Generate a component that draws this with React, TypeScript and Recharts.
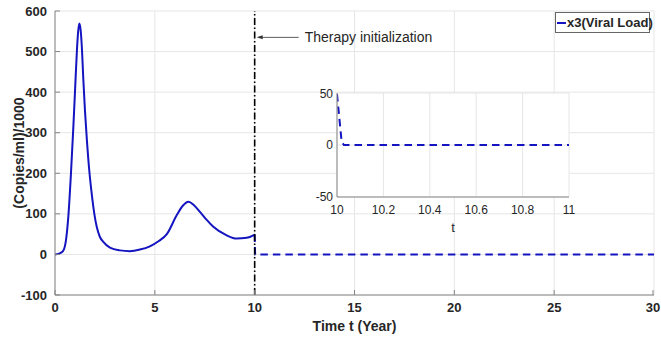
import React from 'react';
import {
  ComposedChart,
  Line,
  XAxis,
  YAxis,
  CartesianGrid,
  ReferenceLine,
  ReferenceDot,
} from 'recharts';

// ---- data ----
const tSolid = [0, 0.2, 0.4, 0.55, 0.67, 0.8, 0.92, 1.0, 1.1, 1.16, 1.22, 1.28, 1.34, 1.42, 1.5, 1.6, 1.72, 1.85, 1.97, 2.09, 2.25, 2.42, 2.75, 3.25, 3.75, 4.25, 4.75, 5.2, 5.6, 6.1, 6.4, 6.68, 6.95, 7.26, 7.6, 7.93, 8.6, 9.1, 9.6, 9.93, 10];
const vSolid = [0, 2, 8, 35, 95, 200, 315, 400, 505, 550, 569, 555, 515, 430, 355, 280, 205, 145, 100, 68, 43, 31, 17, 10, 8, 12, 20, 33, 50, 97, 120, 130, 122, 105, 85, 68, 47, 39, 41, 47, 49];
const tDashed = [10, 10.02, 10.03, 11, 30];
const vDashed = [49, 3, 0, 0, 0];

const xTicks = [0, 5, 10, 15, 20, 25, 30];
const yTicks = [-100, 0, 100, 200, 300, 400, 500, 600];
const insetXTicks = [10, 10.2, 10.4, 10.6, 10.8, 11];
const insetYTicks = [-50, 0, 50];

const seriesName = 'x3(Viral Load)';
const therapyStart = 10;
const annotationValue = 535;
const annotationText = 'Therapy initialization';
const xLabel = 'Time t (Year)';
const yLabel = '(Copies/ml)/1000';
const insetXLabel = 't';

const solidData = tSolid.map((t, i) => ({ t, v: vSolid[i] }));
const dashedData = tDashed.map((t, i) => ({ t, v: vDashed[i] }));
const insetData = dashedData.filter((d) => d.t <= 11);

// ---- styles ----
const FONT = '"Liberation Sans", Arial, sans-serif';
const BLUE = '#1414c0';
const AXIS = '#858585';
const GRID = '#e6e6e6';
const TEXT = '#262626';

const BottomTick = (props: any) => {
  const { x, y, payload } = props;
  return (
    <g>
      <line x1={x} x2={x} y1={y} y2={y - 5} stroke={AXIS} />
      <text x={x} y={y + 17} textAnchor="middle" fontFamily={FONT} fontWeight="bold" fontSize={13} fill={TEXT}>
        {payload.value}
      </text>
    </g>
  );
};
const LeftTick = (props: any) => {
  const { x, y, payload } = props;
  return (
    <g>
      <line x1={x} x2={x + 5} y1={y} y2={y} stroke={AXIS} />
      <text x={x - 8} y={y + 4.5} textAnchor="end" fontFamily={FONT} fontWeight="bold" fontSize={13} fill={TEXT}>
        {payload.value}
      </text>
    </g>
  );
};
const TopTick = (props: any) => {
  const { x, y } = props;
  return <line x1={x} x2={x} y1={y} y2={y + 5} stroke={AXIS} />;
};
const RightTick = (props: any) => {
  const { x, y } = props;
  return <line x1={x} x2={x - 5} y1={y} y2={y} stroke={AXIS} />;
};

const InsetBottomTick = (props: any) => {
  const { x, y, payload } = props;
  return (
    <text x={x} y={y + 17} textAnchor="middle" fontFamily={FONT} fontSize={12} fill={TEXT}>
      {payload.value}
    </text>
  );
};
const InsetLeftTick = (props: any) => {
  const { x, y, payload } = props;
  return (
    <text x={x - 4} y={y + 4} textAnchor="end" fontFamily={FONT} fontSize={12} fill={TEXT}>
      {payload.value}
    </text>
  );
};

const AnnotationShape = (props: any) => {
  const { cx, cy } = props;
  return (
    <g>
      <line x1={cx + 5} x2={cx + 44} y1={cy} y2={cy} stroke="#333" strokeWidth={0.8} />
      <polygon points={`${cx + 2},${cy} ${cx + 8},${cy - 2} ${cx + 8},${cy + 2}`} fill="#333" />
      <text x={cx + 50} y={cy + 5} fontFamily={FONT} fontSize={14} fill={TEXT}>
        {annotationText}
      </text>
    </g>
  );
};

export default function App() {
  return (
    <div style={{ position: 'absolute', left: 0, top: 0, width: 661, height: 337, background: '#fff' }}>
      <ComposedChart width={661} height={337} margin={{ top: 11, right: 7, bottom: 0, left: 0 }}>
        <CartesianGrid stroke={GRID} horizontal vertical />
        <XAxis
          dataKey="t"
          type="number"
          domain={[0, 30]}
          ticks={xTicks}
          allowDataOverflow
          height={42}
          tickSize={0}
          tickMargin={0}
          stroke={AXIS}
          tick={BottomTick}
          label={{
            content: (p: any) => {
              const vb = p.viewBox;
              return (
                <text x={vb.x + vb.width / 2} y={vb.y + 36} textAnchor="middle" fontFamily={FONT} fontWeight="bold" fontSize={14} fill={TEXT}>
                  {xLabel}
                </text>
              );
            },
          }}
        />
        <XAxis
          xAxisId="top"
          dataKey="t"
          orientation="top"
          type="number"
          domain={[0, 30]}
          ticks={xTicks}
          allowDataOverflow
          height={0}
          tickSize={0}
          tickMargin={0}
          stroke={AXIS}
          tick={TopTick}
        />
        <YAxis
          type="number"
          domain={[-100, 600]}
          ticks={yTicks}
          allowDataOverflow
          width={55}
          tickSize={0}
          tickMargin={0}
          stroke={AXIS}
          tick={LeftTick}
          label={{
            content: (p: any) => {
              const vb = p.viewBox;
              const cx = 19;
              const cy = vb.y + vb.height / 2;
              return (
                <text
                  x={cx}
                  y={cy}
                  transform={`rotate(-90 ${cx} ${cy})`}
                  textAnchor="middle"
                  dominantBaseline="central"
                  fontFamily={FONT}
                  fontWeight="bold"
                  fontSize={14}
                  fill={TEXT}
                >
                  {yLabel}
                </text>
              );
            },
          }}
        />
        <YAxis
          yAxisId="right"
          orientation="right"
          type="number"
          domain={[-100, 600]}
          ticks={yTicks}
          allowDataOverflow
          width={0}
          tickSize={0}
          tickMargin={0}
          stroke={AXIS}
          tick={RightTick}
        />
        <Line
          data={solidData}
          dataKey="v"
          name={seriesName}
          type="monotone"
          stroke={BLUE}
          strokeWidth={2}
          dot={false}
          activeDot={false}
          isAnimationActive={false}
        />
        <Line
          data={dashedData}
          dataKey="v"
          name="dashed"
          type="linear"
          stroke={BLUE}
          strokeWidth={2}
          strokeDasharray="7.5 5"
          dot={false}
          activeDot={false}
          isAnimationActive={false}
        />
        <ReferenceLine x={therapyStart} stroke="#000" strokeWidth={1.6} strokeDasharray="7 2.5 1.5 2.5" />
        <ReferenceDot x={therapyStart} y={annotationValue} shape={AnnotationShape} />
      </ComposedChart>
      <div
        style={{
          position: 'absolute',
          top: 12,
          left: 555,
          boxSizing: 'border-box',
          height: 21,
          width: 95,
          border: '1px solid #666',
          background: '#fff',
          display: 'flex',
          alignItems: 'center',
          paddingLeft: 1,
          fontFamily: FONT,
          fontWeight: 'bold',
          fontSize: 13,
          color: TEXT,
          whiteSpace: 'nowrap',
        }}
      >
        <span style={{ display: 'inline-block', flex: '0 0 9px', width: 9, height: 2, background: BLUE, marginRight: 1 }} />
        {seriesName}
      </div>
      <div style={{ position: 'absolute', left: 300, top: 85, width: 280, height: 149 }}>
        <ComposedChart width={280} height={149} margin={{ top: 8, right: 11, bottom: 0, left: 0 }}>
          <CartesianGrid stroke={GRID} fill="#fff" horizontal vertical />
          <XAxis
            dataKey="t"
            type="number"
            domain={[10, 11]}
            ticks={insetXTicks}
            allowDataOverflow
            height={37}
            tickSize={0}
            tickMargin={0}
            stroke={AXIS}
            tick={InsetBottomTick}
            label={{
              content: (p: any) => {
                const vb = p.viewBox;
                return (
                  <text x={vb.x + vb.width / 2} y={vb.y + 35} textAnchor="middle" fontFamily={FONT} fontSize={13} fill={TEXT}>
                    {insetXLabel}
                  </text>
                );
              },
            }}
          />
          <XAxis xAxisId="top" dataKey="t" orientation="top" type="number" domain={[10, 11]} allowDataOverflow height={0} tick={false} tickLine={false} stroke={AXIS} />
          <YAxis
            type="number"
            domain={[-50, 50]}
            ticks={insetYTicks}
            allowDataOverflow
            width={37}
            tickSize={0}
            tickMargin={0}
            stroke={AXIS}
            tick={InsetLeftTick}
          />
          <YAxis yAxisId="right" orientation="right" type="number" domain={[-50, 50]} allowDataOverflow width={0} tick={false} tickLine={false} stroke={AXIS} />
          <Line
            data={insetData}
            dataKey="v"
            type="linear"
            stroke={BLUE}
            strokeWidth={2}
            strokeDasharray="7.5 5"
            dot={false}
            activeDot={false}
            isAnimationActive={false}
          />
        </ComposedChart>
      </div>
    </div>
  );
}
